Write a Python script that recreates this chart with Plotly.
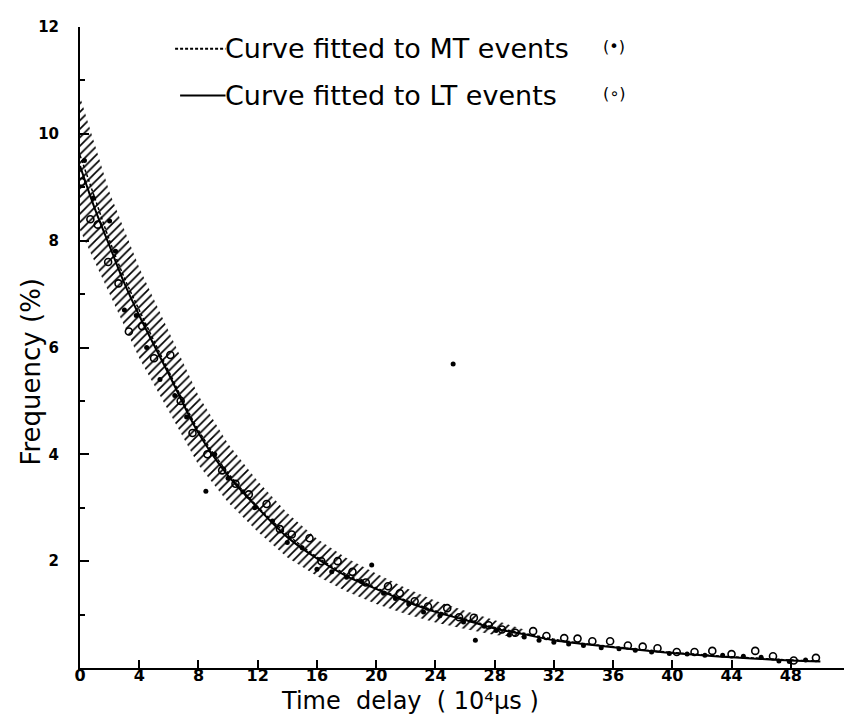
import plotly.graph_objects as go

# ---- data ----
curve_x = [0, 1, 2, 3, 4, 6, 8, 10, 12, 14, 16, 18, 20, 22, 24, 26, 28, 30, 32, 34, 36, 38, 40, 42, 44, 46, 48, 50]
lt_curve_y = [9.4, 8.6, 7.9, 7.2, 6.6, 5.5, 4.4, 3.6, 3.0, 2.45, 2.05, 1.72, 1.48, 1.25, 1.05, 0.9, 0.74, 0.63, 0.52, 0.45, 0.39, 0.33, 0.28, 0.24, 0.2, 0.17, 0.14, 0.12]
mt_curve_y = [9.6, 8.8, 8.0, 7.3, 6.7, 5.55, 4.45, 3.65, 3.02, 2.5, 2.08, 1.75, 1.5, 1.27, 1.07, 0.92, 0.76, 0.65, 0.54, 0.46, 0.4, 0.34, 0.29, 0.25, 0.21, 0.18, 0.15, 0.13]

band_x = [0, 2, 4, 6, 8, 10, 12, 14, 16, 18, 20, 22, 24, 26, 28, 30]
band_upper = [10.7, 8.9, 7.5, 6.3, 5.1, 4.2, 3.5, 2.9, 2.42, 2.06, 1.77, 1.5, 1.26, 1.07, 0.9, 0.72]
band_lower = [8.2, 7.0, 5.8, 4.8, 3.8, 3.1, 2.55, 2.07, 1.72, 1.43, 1.2, 1.01, 0.85, 0.73, 0.62, 0.57]

lt_x = [0.1, 0.7, 1.2, 1.9, 2.6, 3.3, 4.2, 5.0, 6.1, 6.8, 7.6, 8.6, 9.6, 10.5, 11.4, 12.6, 13.5, 14.3, 15.5, 16.3,
        17.4, 18.4, 19.3, 20.8, 21.6, 22.6, 23.5, 24.8, 25.6, 26.6, 27.6, 28.5, 29.4, 30.6, 31.5, 32.7, 33.6, 34.6,
        35.8, 37.0, 38.0, 39.0, 40.3, 41.5, 42.7, 44.0, 45.6, 46.8, 48.2, 49.7]
lt_y = [9.1, 8.4, 8.3, 7.6, 7.2, 6.3, 6.4, 5.8, 5.86, 5.0, 4.4, 4.0, 3.7, 3.45, 3.25, 3.07, 2.6, 2.5, 2.43, 2.0,
        2.0, 1.8, 1.6, 1.53, 1.4, 1.25, 1.15, 1.12, 0.95, 0.94, 0.8, 0.72, 0.66, 0.69, 0.6, 0.56, 0.55, 0.5,
        0.5, 0.42, 0.4, 0.37, 0.3, 0.3, 0.32, 0.26, 0.32, 0.22, 0.14, 0.19]

mt_x = [0.3, 0.9, 2.0, 2.4, 3.0, 3.8, 4.5, 5.4, 6.4, 7.2, 8.5, 9.1, 10.0, 11.0, 11.8, 13.0, 14.0, 15.0, 16.0, 17.0,
        18.0, 19.0, 19.7, 20.5, 21.3, 22.2, 23.2, 24.3, 25.2, 25.9, 26.7, 27.3, 28.1, 29.0, 30.0, 31.0, 32.0, 33.0,
        34.0, 35.2, 36.4, 37.5, 38.6, 39.8, 41.0, 42.2, 43.4, 44.8, 46.0, 47.2, 47.9, 49.0]
mt_y = [9.5, 8.8, 8.37, 7.8, 6.7, 6.6, 6.0, 5.4, 5.1, 4.7, 3.31, 4.0, 3.55, 3.3, 3.0, 2.75, 2.35, 2.25, 1.85, 1.8,
        1.7, 1.62, 1.93, 1.4, 1.3, 1.2, 1.05, 0.98, 5.69, 0.86, 0.52, 0.78, 0.7, 0.62, 0.58, 0.52, 0.48, 0.45,
        0.42, 0.38, 0.36, 0.33, 0.3, 0.27, 0.26, 0.24, 0.24, 0.22, 0.2, 0.13, 0.12, 0.15]

x_ticks = [0, 4, 8, 12, 16, 20, 24, 28, 32, 36, 40, 44, 48, 52]
y_ticks = [2, 4, 6, 8, 10, 12]

FONT = "DejaVu Sans"

fig = go.Figure()

# hatched uncertainty band
fig.add_trace(go.Scatter(x=band_x, y=band_lower, mode="lines", line=dict(width=0, color="black"),
                         showlegend=False, hoverinfo="skip"))
fig.add_trace(go.Scatter(x=band_x, y=band_upper, mode="lines", line=dict(width=0, color="black"),
                         fill="tonexty", fillcolor="rgba(0,0,0,0)",
                         fillpattern=dict(shape="/", fgcolor="black", bgcolor="rgba(0,0,0,0)",
                                          size=6, solidity=0.28, fillmode="replace"),
                         showlegend=False, hoverinfo="skip"))

# fitted curves
fig.add_trace(go.Scatter(x=curve_x, y=mt_curve_y, mode="lines", line=dict(color="black", width=1.5, dash="3px,2px"),
                         line_shape="spline", showlegend=False))
fig.add_trace(go.Scatter(x=curve_x, y=lt_curve_y, mode="lines", line=dict(color="black", width=2),
                         line_shape="spline", showlegend=False))

# events
fig.add_trace(go.Scatter(x=lt_x, y=lt_y, mode="markers",
                         marker=dict(symbol="circle-open", size=7, color="black", line=dict(width=1.6)),
                         showlegend=False))
fig.add_trace(go.Scatter(x=mt_x, y=mt_y, mode="markers",
                         marker=dict(symbol="circle", size=5, color="black"),
                         showlegend=False))

# legend drawn as text + line samples
fig.add_shape(type="line", xref="paper", yref="paper", x0=0.1235, x1=0.189, y0=0.966, y1=0.966,
              line=dict(color="black", width=2, dash="3px,2px"))
fig.add_shape(type="line", xref="paper", yref="paper", x0=0.130, x1=0.189, y0=0.893, y1=0.893,
              line=dict(color="black", width=2))
fig.add_annotation(xref="paper", yref="paper", x=0.186, y=0.966, xanchor="left", yanchor="middle",
                   text="Curve fitted to MT events", showarrow=False,
                   font=dict(family=FONT, size=27, color="black"))
fig.add_annotation(xref="paper", yref="paper", x=0.186, y=0.893, xanchor="left", yanchor="middle",
                   text="Curve fitted to LT events", showarrow=False,
                   font=dict(family=FONT, size=27, color="black"))
fig.add_annotation(xref="paper", yref="paper", x=0.694, y=0.969, xanchor="center", yanchor="middle",
                   text="(•)", showarrow=False, font=dict(family=FONT, size=16, color="black"))
fig.add_annotation(xref="paper", yref="paper", x=0.694, y=0.896, xanchor="center", yanchor="middle",
                   text="(∘)", showarrow=False, font=dict(family=FONT, size=16, color="black"))

# axis titles
fig.add_annotation(xref="paper", yref="paper", x=0.429, y=-0.051, xanchor="center", yanchor="middle",
                   text="Time\u00a0 delay\u00a0 (\u00a010⁴µs\u00a0)", showarrow=False,
                   font=dict(family=FONT, size=24, color="black"))
fig.add_annotation(xref="paper", yref="paper", x=-0.064, y=0.462, xanchor="center", yanchor="middle",
                   text="Frequency (%)", textangle=-90, showarrow=False,
                   font=dict(family=FONT, size=26, color="black"))

fig.update_xaxes(range=[0, 52], tickvals=x_ticks, ticktext=[str(v) for v in x_ticks],
                 showline=True, linecolor="black", linewidth=2, mirror=False,
                 ticks="inside", ticklen=8, tickwidth=2, tickcolor="black",
                 showgrid=False, zeroline=False, ticklabelstandoff=-8,
                 tickfont=dict(family=FONT, size=16, color="black", weight="bold"))
fig.update_yaxes(range=[0, 12], tickvals=y_ticks, ticktext=[str(v) for v in y_ticks],
                 showline=True, linecolor="black", linewidth=2, mirror=False,
                 ticks="inside", ticklen=9, tickwidth=2, tickcolor="black",
                 minor=dict(tickvals=[1, 3, 5, 7, 9, 11], ticks="inside", ticklen=5, tickwidth=1.5, tickcolor="black"),
                 showgrid=False, zeroline=False, ticklabelstandoff=16,
                 tickfont=dict(family=FONT, size=15, color="black", weight="bold"))

fig.update_layout(width=852, height=715, margin=dict(l=72, r=10, t=19, b=55),
                  paper_bgcolor="white", plot_bgcolor="white", showlegend=False)

fig.write_html("out.html")
